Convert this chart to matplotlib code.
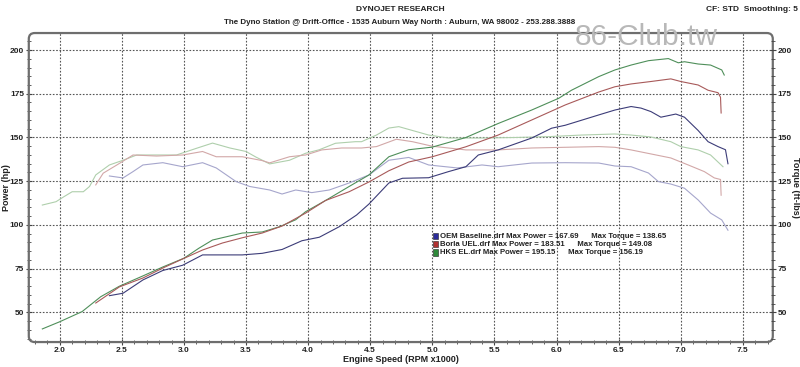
import matplotlib
matplotlib.use("Agg")
import matplotlib.pyplot as plt
from matplotlib.patches import FancyBboxPatch, Rectangle
from matplotlib.ticker import MultipleLocator

# engine speed in RPM x1000
hks_pwr_rpm = [1.86, 2.0, 2.18, 2.33, 2.48, 2.67, 2.83, 3.0, 3.12, 3.23, 3.47, 3.63, 3.77, 3.9, 3.98,
               4.14, 4.33, 4.49, 4.65, 4.81, 5.0, 5.27, 5.53, 5.8, 6.02, 6.12, 6.34, 6.47, 6.6, 6.74,
               6.9, 6.98, 7.03, 7.14, 7.24, 7.33, 7.35]
hks_pwr = [40.6, 44.7, 50.5, 59, 65, 70.9, 76, 81, 86.7, 91.4, 95.4, 96, 99, 103, 107.6,
           114, 122, 128.6, 139, 143, 144.5, 150, 158, 165.7, 172.5, 177, 184.8, 188.6, 191.4, 193.9,
           195.1, 192.7, 193.3, 192, 191.4, 188.6, 185.7]

borla_pwr_rpm = [2.29, 2.48, 2.67, 2.83, 2.99, 3.15, 3.31, 3.47, 3.63, 3.79, 3.98, 4.14, 4.33, 4.49,
                 4.65, 4.81, 5.0, 5.27, 5.53, 5.8, 6.07, 6.34, 6.47, 6.6, 6.76, 6.92, 7.0, 7.14, 7.22,
                 7.3, 7.32, 7.325]
borla_pwr = [55.4, 64.6, 69.7, 75.4, 80.6, 85.7, 89.7, 92.7, 95.4, 99.4, 106.8, 114, 119, 124.6,
             131, 136, 139, 144.7, 151.4, 160, 168.6, 176, 179, 180.6, 182, 183.5, 182, 180, 177,
             175.6, 173, 164]

oem_pwr_rpm = [2.4, 2.51, 2.67, 2.83, 2.99, 3.15, 3.31, 3.47, 3.63, 3.79, 3.95, 4.09, 4.25, 4.39, 4.49,
               4.65, 4.76, 4.97, 5.13, 5.27, 5.37, 5.53, 5.8, 5.96, 6.07, 6.34, 6.47, 6.6, 6.68, 6.76,
               6.84, 6.96, 7.03, 7.14, 7.22, 7.3, 7.36, 7.38]
oem_pwr = [59.6, 61, 68.6, 74, 77, 82.9, 82.9, 82.9, 83.8, 86, 91, 93, 99, 105.7, 112,
           124, 126.7, 127, 130.5, 133.3, 140, 142.9, 149.7, 155.3, 157, 162.9, 165.7, 167.7, 166.8, 164.8,
           161.6, 163.4, 161.6, 154, 147.6, 144.8, 143, 135]

hks_trq_rpm = [1.86, 1.97, 2.03, 2.1, 2.19, 2.24, 2.29, 2.4, 2.51, 2.62, 2.78, 2.94, 3.1, 3.23, 3.37,
               3.5, 3.58, 3.69, 3.85, 3.98, 4.09, 4.22, 4.38, 4.43, 4.55, 4.65, 4.73, 4.84, 4.97, 5.13,
               5.4, 5.67, 5.94, 6.2, 6.47, 6.6, 6.76, 6.92, 7.0, 7.14, 7.24, 7.34]
hks_trq = [111.4, 113.3, 116, 119, 119, 122, 128.6, 134.3, 137, 140, 140, 140, 143.8, 146.8, 144,
           142, 138.8, 134.9, 137, 141, 143, 146.7, 147.6, 147.6, 151.4, 155.4, 156.2, 154, 151.4, 149.7,
           149.7, 150, 150.5, 151.4, 152, 151.4, 150.3, 147.6, 144.8, 142.9, 140, 133.3]

borla_trq_rpm = [2.29, 2.35, 2.46, 2.59, 2.78, 2.99, 3.15, 3.26, 3.47, 3.63, 3.69, 3.85, 3.98, 4.11,
                 4.27, 4.43, 4.55, 4.71, 4.84, 5.0, 5.27, 5.53, 5.8, 6.07, 6.34, 6.47, 6.6, 6.76, 6.92,
                 7.06, 7.19, 7.27, 7.32, 7.325]
borla_trq = [122.9, 129.6, 134.3, 140, 139.4, 140, 142, 139, 139, 136.8, 135.5, 139, 140, 142.9,
             144, 144, 144.8, 149, 147.6, 145, 142.9, 142.9, 144, 144.4, 144.8, 144.4, 142.9, 140.6, 138.3,
             134.3, 130.5, 126.9, 126, 117]

oem_trq_rpm = [2.4, 2.51, 2.59, 2.67, 2.83, 2.99, 3.15, 3.26, 3.42, 3.53, 3.69, 3.79, 3.9, 4.03, 4.17,
               4.33, 4.49, 4.65, 4.81, 4.97, 5.2, 5.4, 5.53, 5.8, 6.07, 6.34, 6.47, 6.6, 6.74, 6.82,
               6.92, 7.03, 7.14, 7.24, 7.33, 7.38]
oem_trq = [128, 126.9, 130.5, 134.3, 135.6, 133.3, 135.6, 132.6, 124.8, 122, 120, 117.7, 120, 118.5, 120,
           124, 128.6, 137, 138.6, 134.3, 132.6, 134.3, 133.3, 135.4, 135.6, 135.4, 133.7, 133.3, 129.7, 124.8,
           123.4, 121, 114.3, 106.8, 102.9, 97]

legend_lines = [
    "OEM Baseline.drf Max Power = 167.69      Max Torque = 138.65",
    "Borla UEL.drf Max Power = 183.51      Max Torque = 149.08",
    "HKS EL.drf Max Power = 195.15      Max Torque = 156.19",
]
legend_colors = ["#2b2b9a", "#b03030", "#2e8a3a"]

FONT = "Liberation Sans"
TXT = "#222222"

fig = plt.figure(figsize=(8, 3.67), dpi=100)
ax = fig.add_axes([0.036, 0.068, 0.93, 0.842])

ax.plot(hks_trq_rpm, hks_trq, color="#afcfac", lw=0.8)
ax.plot(borla_trq_rpm, borla_trq, color="#d2a8a8", lw=0.8)
ax.plot(oem_trq_rpm, oem_trq, color="#a6a6cc", lw=0.8)
ax.plot(hks_pwr_rpm, hks_pwr, color="#4f8f5a", lw=0.8)
ax.plot(borla_pwr_rpm, borla_pwr, color="#a85a5a", lw=0.8)
ax.plot(oem_pwr_rpm, oem_pwr, color="#3c3c78", lw=0.8)

ax.set_xlim(1.751, 7.741)
ax.set_ylim(33.1, 209.7)
ax.xaxis.set_major_locator(MultipleLocator(0.5))
ax.xaxis.set_minor_locator(MultipleLocator(0.1))
ax.yaxis.set_major_locator(MultipleLocator(25))
ax.yaxis.set_minor_locator(MultipleLocator(5))
ax.grid(True, which="major", color="#555555", lw=0.8, ls=(0, (1.5, 1.5)))
ax.set_yticks([50, 75, 100, 125, 150, 175, 200])
ax.set_xticks([2.0, 2.5, 3.0, 3.5, 4.0, 4.5, 5.0, 5.5, 6.0, 6.5, 7.0, 7.5])
ax.set_xticklabels(["2.0", "2.5", "3.0", "3.5", "4.0", "4.5", "5.0", "5.5", "6.0", "6.5", "7.0", "7.5"])

for s in ax.spines.values():
    s.set_visible(False)

ax2 = ax.twinx()
ax2.set_ylim(ax.get_ylim())
ax2.yaxis.set_major_locator(MultipleLocator(25))
ax2.yaxis.set_minor_locator(MultipleLocator(5))
ax2.set_yticks([50, 75, 100, 125, 150, 175, 200])
for s in ax2.spines.values():
    s.set_visible(False)

for a in (ax, ax2):
    a.tick_params(which="major", direction="inout", length=5, width=0.8, color="#444444",
                  labelsize=6, labelcolor=TXT, pad=1)
    a.tick_params(which="minor", direction="inout", length=3, width=0.6, color="#444444")
    for lab in a.get_xticklabels() + a.get_yticklabels():
        lab.set_family(FONT)
        lab.set_fontweight("bold")

frame = FancyBboxPatch((0, 0), 1, 1, boxstyle="round,pad=0,rounding_size=0.008",
                       mutation_aspect=2.4, transform=ax.transAxes, fill=False,
                       ec="#6e6e6e", lw=1.6, clip_on=False, zorder=5)
ax.add_patch(frame)

ax.set_xlabel("Engine Speed (RPM x1000)", family=FONT, fontweight="bold", fontsize=6.5,
              color=TXT, labelpad=1)
ax.set_ylabel("Power (hp)", family=FONT, fontweight="bold", fontsize=6.5, color=TXT, va="center")
ax.yaxis.set_label_coords(-0.030, 0.5)
ax2.set_ylabel("Torque (ft-lbs)", family=FONT, fontweight="bold", fontsize=6.5, color=TXT,
               rotation=270, va="center")
ax2.yaxis.set_label_coords(1.031, 0.5)

# legend block inside the plot
ys = [0.343, 0.317, 0.291]
for txt, c, y in zip(legend_lines, legend_colors, ys):
    ax.add_patch(Rectangle((0.543, y - 0.011), 0.0075, 0.022, transform=ax.transAxes,
                           fc=c, ec="#222222", lw=0.4, zorder=6))
    ax.text(0.553, y, txt, transform=ax.transAxes, va="center", ha="left", family=FONT,
            fontweight="bold", fontsize=5.6, color=TXT, zorder=6)

fig.text(0.5, 0.975, "DYNOJET RESEARCH", ha="center", va="center", family=FONT,
         fontweight="bold", fontsize=6, color=TXT)
fig.text(0.5, 0.938, "The Dyno Station @ Drift-Office - 1535 Auburn Way North : Auburn, WA 98002 - 253.288.3888",
         ha="center", va="center", family=FONT, fontweight="bold", fontsize=5.8, color=TXT)
fig.text(0.997, 0.975, "CF: STD  Smoothing: 5", ha="right", va="center", family=FONT,
         fontweight="bold", fontsize=6, color=TXT)
fig.text(0.808, 0.878, "86-Club.tw", ha="center", va="baseline", family=FONT,
         fontsize=21.5, color="#b8b8b8", zorder=10)

fig.savefig("out.png", dpi=100)
